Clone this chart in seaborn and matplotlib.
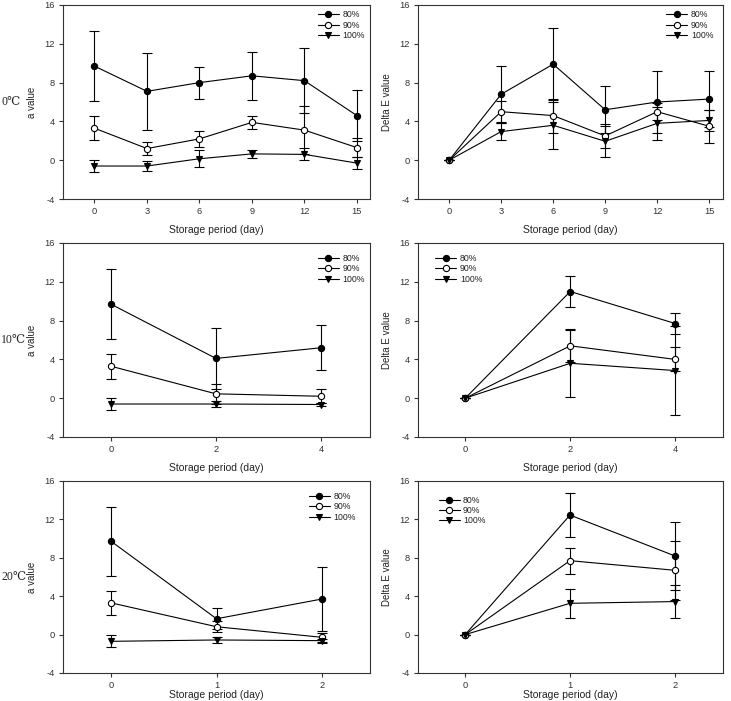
import numpy as np
import seaborn as sns
import matplotlib.pyplot as plt

# storage days per temperature
days_0c = [0, 3, 6, 9, 12, 15]
days_10c = [0, 2, 4]
days_20c = [0, 1, 2]
labels = ["80%", "90%", "100%"]

# a value, 0 C
a0_80 = [9.7, 7.1, 8.0, 8.7, 8.2, 4.6]
a0_90 = [3.3, 1.2, 2.2, 3.9, 3.1, 1.3]
a0_100 = [-0.6, -0.6, 0.15, 0.65, 0.6, -0.3]
a0_80_sd = [3.6, 3.95, 1.65, 2.45, 3.35, 2.65]
a0_90_sd = [1.25, 0.65, 0.82, 0.67, 2.5, 0.95]
a0_100_sd = [0.6, 0.52, 0.87, 0.45, 0.62, 0.6]

# delta E, 0 C
e0_80 = [0.0, 6.8, 9.9, 5.2, 6.0, 6.3]
e0_90 = [0.0, 5.0, 4.6, 2.5, 5.0, 3.5]
e0_100 = [0.0, 2.95, 3.6, 1.95, 3.8, 4.1]
e0_80_sd = [0.0, 2.9, 3.7, 2.4, 3.2, 2.9]
e0_90_sd = [0.0, 1.15, 1.76, 1.2, 0.9, 1.7]
e0_100_sd = [0.0, 0.85, 2.4, 1.6, 1.7, 1.1]

# a value, 10 C
a10_80 = [9.7, 4.1, 5.2]
a10_90 = [3.3, 0.45, 0.2]
a10_100 = [-0.6, -0.6, -0.65]
a10_80_sd = [3.6, 3.17, 2.3]
a10_90_sd = [1.28, 1.0, 0.73]
a10_100_sd = [0.6, 0.3, 0.2]

# delta E, 10 C
e10_80 = [0.0, 11.0, 7.7]
e10_90 = [0.0, 5.4, 4.0]
e10_100 = [0.0, 3.6, 2.85]
e10_80_sd = [0.0, 1.6, 1.07]
e10_90_sd = [0.0, 1.69, 1.24]
e10_100_sd = [0.0, 3.45, 4.55]

# a value, 20 C
a20_80 = [9.7, 1.65, 3.7]
a20_90 = [3.3, 0.82, -0.28]
a20_100 = [-0.7, -0.56, -0.63]
a20_80_sd = [3.58, 1.1, 3.37]
a20_90_sd = [1.25, 0.6, 0.45]
a20_100_sd = [0.62, 0.35, 0.2]

# delta E, 20 C
e20_80 = [0.0, 12.45, 8.2]
e20_90 = [0.0, 7.7, 6.7]
e20_100 = [0.0, 3.26, 3.44]
e20_80_sd = [0.0, 2.3, 3.58]
e20_90_sd = [0.0, 1.34, 3.06]
e20_100_sd = [0.0, 1.52, 1.76]

row_labels = ["0\u2103", "10\u2103", "20\u2103"]


def draw_panel(ax, days, series, sds, ylabel, xlim, leg_anchor, leg_loc, xpad=6):
    styles = [dict(marker="o", markerfacecolor="black"),
              dict(marker="o", markerfacecolor="white"),
              dict(marker="v", markerfacecolor="black")]
    for vals, sd, lab, st in zip(series, sds, labels, styles):
        ax.errorbar(days, vals, yerr=sd, fmt="none", ecolor="black",
                    elinewidth=0.8, capsize=3.5, capthick=0.8, zorder=2)
        sns.lineplot(x=days, y=vals, ax=ax, color="black", linewidth=0.8,
                     markersize=4.5, markeredgecolor="black", markeredgewidth=0.8,
                     label=lab, zorder=3, **st)
    ax.set_xlim(*xlim)
    ax.set_ylim(-4, 16)
    ax.set_xticks(days)
    ax.set_yticks([-4, 0, 4, 8, 12, 16])
    ax.set_xlabel("Storage period (day)", fontsize=7.5, labelpad=xpad)
    ax.set_ylabel(ylabel, fontsize=7, labelpad=5)
    ax.tick_params(labelsize=6.7, length=3, width=0.8, direction="out", pad=3)
    for sp in ax.spines.values():
        sp.set_linewidth(0.8)
        sp.set_color("#333333")
    ax.grid(False)
    ax.legend(loc=leg_loc, bbox_to_anchor=leg_anchor, frameon=False,
              fontsize=6.3, handlelength=2.4, labelspacing=0.15,
              handletextpad=0.4, borderaxespad=0.2)


def main():
    sns.set_theme(style="ticks", context="paper")
    plt.rcParams["font.family"] = ["Liberation Sans", "DejaVu Sans"]
    plt.rcParams["axes.unicode_minus"] = False
    plt.rcParams["text.color"] = "#222222"
    plt.rcParams["axes.labelcolor"] = "#222222"
    plt.rcParams["xtick.color"] = "#333333"
    plt.rcParams["ytick.color"] = "#333333"

    fig = plt.figure(figsize=(7.31, 7.01), dpi=100)
    W, H = 731, 701
    lefts = [(63, 370), (418, 723)]
    rows = [(5, 199), (243, 437), (481, 673)]

    def make_ax(col, row):
        x0, x1 = lefts[col]
        y0, y1 = rows[row]
        return fig.add_axes([x0 / W, 1 - y1 / H, (x1 - x0) / W, (y1 - y0) / H])

    ax = make_ax(0, 0)
    draw_panel(ax, days_0c, [a0_80, a0_90, a0_100], [a0_80_sd, a0_90_sd, a0_100_sd],
               "a value", (-1.8, 15.75), (1.0, 1.0), "upper right")
    ax = make_ax(1, 0)
    draw_panel(ax, days_0c, [e0_80, e0_90, e0_100], [e0_80_sd, e0_90_sd, e0_100_sd],
               "Delta E value", (-1.8, 15.8), (0.985, 1.0), "upper right")
    ax = make_ax(0, 1)
    draw_panel(ax, days_10c, [a10_80, a10_90, a10_100], [a10_80_sd, a10_90_sd, a10_100_sd],
               "a value", (-0.91, 4.93), (1.0, 0.97), "upper right")
    ax = make_ax(1, 1)
    draw_panel(ax, days_10c, [e10_80, e10_90, e10_100], [e10_80_sd, e10_90_sd, e10_100_sd],
               "Delta E value", (-0.9, 4.91), (0.04, 0.97), "upper left")
    ax = make_ax(0, 2)
    draw_panel(ax, days_20c, [a20_80, a20_90, a20_100], [a20_80_sd, a20_90_sd, a20_100_sd],
               "a value", (-0.46, 2.46), (0.97, 0.97), "upper right", xpad=0)
    ax = make_ax(1, 2)
    draw_panel(ax, days_20c, [e20_80, e20_90, e20_100], [e20_80_sd, e20_90_sd, e20_100_sd],
               "Delta E value", (-0.45, 2.46), (0.05, 0.95), "upper left", xpad=0)

    for lab, (y0, y1) in zip(row_labels, rows):
        fig.text(1 / W, 1 - (y0 + y1) / 2 / H, lab, ha="left", va="center",
                 fontsize=8.5, family=["Liberation Serif", "DejaVu Serif"])

    fig.savefig("out.png", dpi=100)


if __name__ == "__main__":
    main()
